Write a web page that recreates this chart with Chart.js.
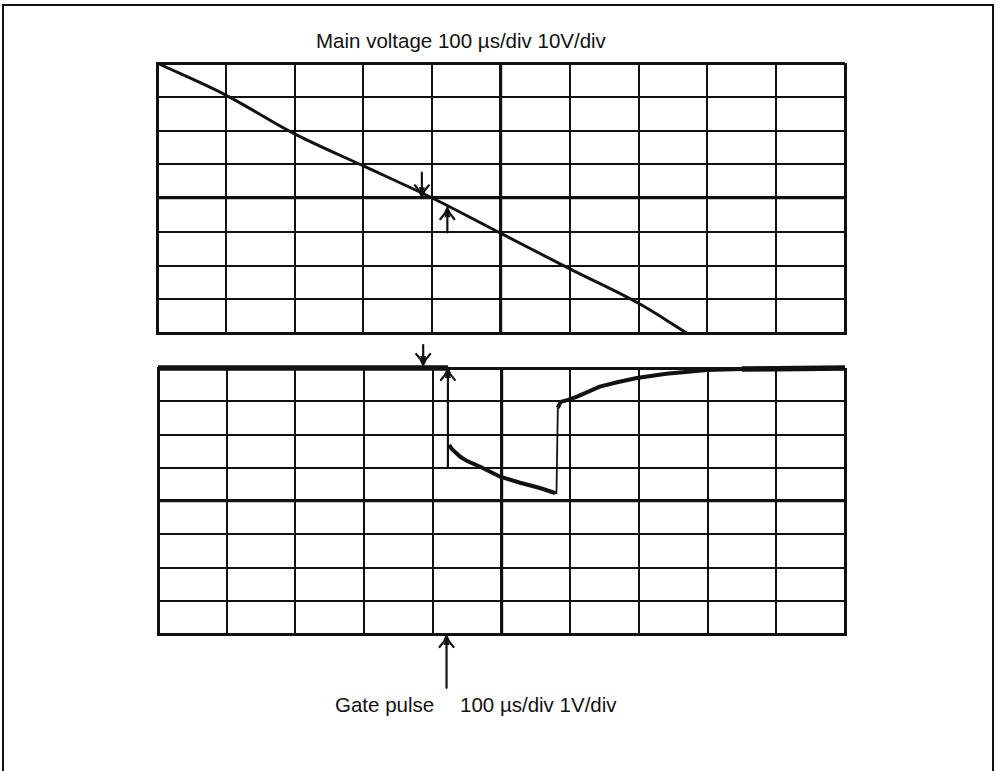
<!DOCTYPE html>
<html>
<head>
<meta charset="utf-8">
<script src="https://cdn.jsdelivr.net/npm/chart.js@4/dist/chart.umd.min.js"></script>
<style>
  body { margin: 0; background: #fff; }
  #page { position: relative; width: 1000px; height: 771px; overflow: hidden; background: #fff; }
  #frame { position: absolute; left: 2px; top: 4px; width: 988px; height: 800px; border: 2px solid #111; }
  .cap { position: absolute; font-family: "Liberation Sans", Arial, sans-serif; font-size: 20.5px; line-height: 20px; color: #111; white-space: pre; }
  canvas { position: absolute; }
</style>
</head>
<body>
<div id="page">
  <div id="frame"></div>
  <div class="cap" id="capTop" style="left:316px; top:31px;">Main voltage 100 µs/div 10V/div</div>
  <div class="cap" id="capGate" style="left:335px; top:695px;">Gate pulse</div>
  <div class="cap" id="capGateScale" style="left:460px; top:695px;">100 µs/div 1V/div</div>
  <canvas id="mainChart" width="708" height="290" style="left:147px; top:53px;"></canvas>
  <canvas id="gateChart" width="707" height="370" style="left:148px; top:335px;"></canvas>
</div>
<script>
// graticule: 10 x 8 divisions
const divX = 10;
const divY = 8;

// mains voltage trace (div units)
const mainX = [0, 1, 2, 3, 4, 5, 6, 7, 7.7];
const mainY = [8, 7.05, 5.9, 4.95, 4.0, 2.95, 1.9, 0.88, 0];

// gate pulse trace (div units)
const gateX = [0, 4.22, 4.22, 4.24, 4.28, 4.34, 4.40, 4.50, 4.69, 4.98, 5.27, 5.56, 5.78, 5.80,
  5.82, 5.86, 5.97, 6.10, 6.43, 6.70, 6.97, 7.40, 7.99, 8.50, 9, 10];
const gateY = [8, 8, 5.68, 5.68, 5.56, 5.44, 5.33, 5.20, 5.03, 4.73, 4.55, 4.39, 4.24, 4.24,
  6.80, 6.98, 7.04, 7.14, 7.44, 7.58, 7.70, 7.83, 7.94, 7.97, 7.98, 8.0];

// trigger markers: [x, tailY, tipY]
const mainMarks = [[3.85, 4.75, 4.05], [4.22, 2.98, 3.70]];
const gateMarks = [[3.86, 8.69, 8.09], [4.22, 4.99, 7.97], [4.2, -1.62, -0.06]];

const ink = '#111';

function toPoints(xs, ys) {
  return xs.map((x, i) => ({ x: x, y: ys[i] }));
}

// draws the small trigger arrows in data coordinates
const arrowPlugin = {
  id: 'arrows',
  afterDatasetsDraw(chart, args, opts) {
    const { ctx, scales } = chart;
    ctx.save();
    ctx.strokeStyle = ink;
    ctx.fillStyle = ink;
    ctx.lineWidth = 2.2;
    ctx.lineCap = 'round';
    (opts.marks || []).forEach(m => {
      const x = scales.x.getPixelForValue(m[0]);
      const y0 = scales.y.getPixelForValue(m[1]);
      const y1 = scales.y.getPixelForValue(m[2]);
      const d = y1 > y0 ? 1 : -1;
      ctx.beginPath();
      ctx.moveTo(x, y0);
      ctx.lineTo(x, y1);
      ctx.moveTo(x - 7, y1 - d * 11);
      ctx.quadraticCurveTo(x - 2, y1 - d * 6, x, y1);
      ctx.quadraticCurveTo(x + 2, y1 - d * 6, x + 7, y1 - d * 11);
      ctx.stroke();
      ctx.beginPath();
      ctx.moveTo(x, y1);
      ctx.lineTo(x - 3, y1 - d * 9);
      ctx.lineTo(x + 3, y1 - d * 9);
      ctx.closePath();
      ctx.fill();
    });
    ctx.restore();
  }
};

function scopeScales() {
  const gridWidth = (c, centre, last) => {
    const v = c.tick ? c.tick.value : 0;
    if (v === 0 || v === last) return 3;
    return v === centre ? 3.2 : 2;
  };
  return {
    x: {
      type: 'linear', min: 0, max: divX,
      ticks: { display: false, stepSize: 1 },
      grid: { color: ink, lineWidth: c => gridWidth(c, 5, divX), drawTicks: false },
      border: { display: true, color: ink, width: 3 }
    },
    y: {
      type: 'linear', min: 0, max: divY,
      ticks: { display: false, stepSize: 1 },
      grid: { color: ink, lineWidth: c => gridWidth(c, 4, divY), drawTicks: false },
      border: { display: true, color: ink, width: 3 }
    }
  };
}

function scopeOptions(marks, padding) {
  return {
    responsive: false,
    animation: false,
    events: [],
    layout: { padding: padding },
    elements: { point: { radius: 0 } },
    plugins: { legend: { display: false }, tooltip: { enabled: false }, arrows: { marks: marks } },
    scales: scopeScales()
  };
}

new Chart(document.getElementById('mainChart'), {
  type: 'scatter',
  data: {
    datasets: [{
      data: toPoints(mainX, mainY),
      showLine: true,
      borderColor: ink,
      borderWidth: 3,
      cubicInterpolationMode: 'monotone',
      clip: false
    }]
  },
  options: scopeOptions(mainMarks, 10),
  plugins: [arrowPlugin]
});

new Chart(document.getElementById('gateChart'), {
  type: 'scatter',
  data: {
    datasets: [{
      data: toPoints(gateX, gateY),
      showLine: true,
      borderColor: ink,
      borderWidth: 4,
      tension: 0,
      clip: false,
      segment: {
        // fast edges are faint on the screen, the resting level is heavy
        borderWidth: c => {
          if (Math.abs(c.p1.parsed.x - c.p0.parsed.x) < 0.03) return 1.8;
          if (c.p0.parsed.y >= 7.95 && c.p1.parsed.y >= 7.95) return 5.5;
          return undefined;
        }
      }
    }]
  },
  options: scopeOptions(gateMarks, { top: 33, bottom: 71, left: 10, right: 10 }),
  plugins: [arrowPlugin]
});
</script>
</body>
</html>
